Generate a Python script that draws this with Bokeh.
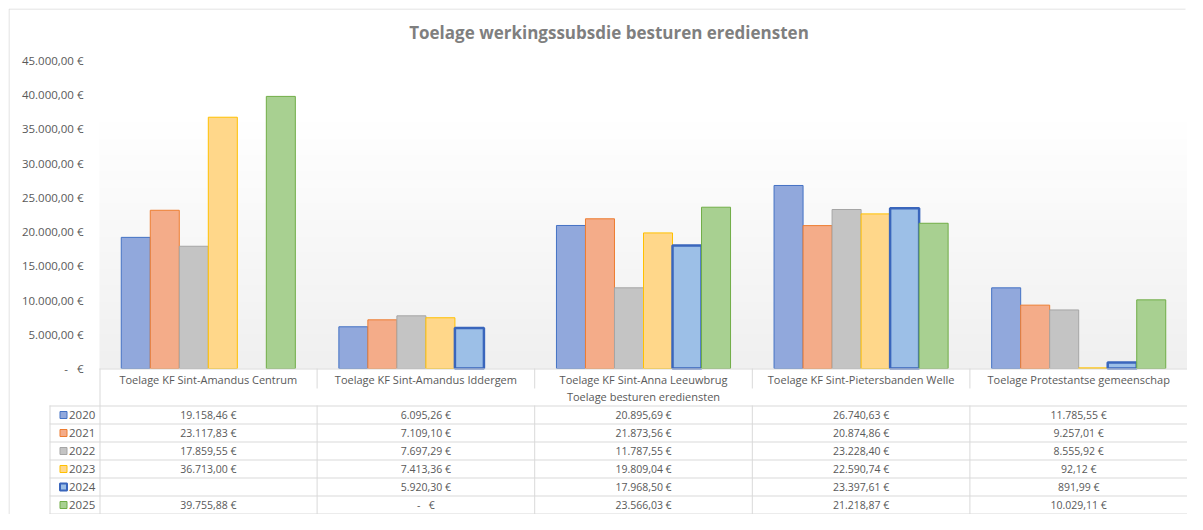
from bokeh.plotting import figure
from bokeh.models import Range1d, FixedTicker, ColumnDataSource
from bokeh.embed import file_html
from bokeh.resources import INLINE
from bokeh.core.properties import value
import numpy as np

# ---------------- data ----------------
TITLE = "Toelage werkingssubsdie besturen erediensten"
X_TITLE = "Toelage besturen erediensten"
CATEGORIES = [
    "Toelage KF Sint-Amandus Centrum",
    "Toelage KF Sint-Amandus Iddergem",
    "Toelage KF Sint-Anna Leeuwbrug",
    "Toelage KF Sint-Pietersbanden Welle",
    "Toelage Protestantse gemeenschap",
]
YEARS = ["2020", "2021", "2022", "2023", "2024", "2025"]
V2020 = [19158.46, 6095.26, 20895.69, 26740.63, 11785.55]
V2021 = [23117.83, 7109.10, 21873.56, 20874.86, 9257.01]
V2022 = [17859.55, 7697.29, 11787.55, 23228.40, 8555.92]
V2023 = [36713.00, 7413.36, 19809.04, 22590.74, 92.12]
V2024 = [None, 5920.30, 17968.50, 23397.61, 891.99]
V2025 = [39755.88, 0.0, 23566.03, 21218.87, 10029.11]
SERIES = [V2020, V2021, V2022, V2023, V2024, V2025]
Y_TICKS = [0, 5000, 10000, 15000, 20000, 25000, 30000, 35000, 40000, 45000]
Y_TICK_LABELS = ["-   €", "5.000,00 €", "10.000,00 €", "15.000,00 €", "20.000,00 €",
                 "25.000,00 €", "30.000,00 €", "35.000,00 €", "40.000,00 €", "45.000,00 €"]

# ---------------- style / layout ----------------
FILL_COLORS = ["#91A8DC", "#F4AC89", "#C4C4C4", "#FFD78A", "#9CBFE7", "#A8D091"]
LINE_COLORS = ["#4472C4", "#ED7D31", "#A5A5A5", "#FFC000", "#3A66BC", "#70AD47"]
LINE_WIDTHS = [1, 1, 1, 1, 2.5, 1]
KEY_WIDTHS = [1, 1, 1, 1, 2, 1]
FONT = "Open Sans"
TXT = "#595959"
GRID = "#D9D9D9"
NBSP = "\u00a0"

W, H = 1187, 514
LEFT, TOP = 8, 8                 # frame offsets inside the canvas
ORIGIN = 1                       # canvas origin in picture pixels
FRAME_L, FRAME_T = ORIGIN + LEFT, ORIGIN + TOP
FRAME_R, FRAME_B = ORIGIN + W, ORIGIN + H
CAT0_X = 100                     # picture x of the first category edge
NC, NB = len(CATEGORIES), len(YEARS)
CAT_PX = (FRAME_R - CAT0_X) / NC
AXIS_Y, TOP_TICK_Y = 369, 61     # picture y of value 0 and of the top tick
U = Y_TICKS[-1] / (AXIS_Y - TOP_TICK_Y)
GAP = 1.5
BAR_W = 1.0 / (NB + GAP)
HEAD = 37                        # header band under the axis
ROW0_Y = AXIS_Y + HEAD           # first table row line
ROW = (FRAME_B - 1 - ROW0_Y) / NB


def X(px):
    return (px - CAT0_X) / CAT_PX


def Y(py):
    return (AXIS_Y - py) * U


def fmt(v):
    if v is None:
        return ""
    if v == 0:
        return "-" + NBSP * 3 + "€"
    s = f"{v:,.2f}".replace(",", "X").replace(".", ",").replace("X", ".")
    return s + " €"


p = figure(width=W, height=H, x_range=Range1d(X(FRAME_L), X(FRAME_R)),
           y_range=Range1d(Y(FRAME_B), Y(FRAME_T)),
           x_axis_location=None, toolbar_location=None, output_backend="svg",
           min_border_left=LEFT, min_border_right=0, min_border_bottom=0,
           min_border_top=TOP, outline_line_color=None)
p.grid.visible = False

# plot-area gradient background (white top -> light grey bottom)
n = 200
t = np.linspace(0, 1, n)
g = (240 + 15 * np.clip(t / 0.8, 0, 1)).astype(np.uint32)
img = np.empty((n, 1), dtype=np.uint32)
img[:, 0] = (255 << 24) | (g << 16) | (g << 8) | g
p.image_rgba(image=[img], x=0, y=0, dw=NC, dh=Y_TICKS[-1])

for si, vals in enumerate(SERIES):
    xs = [ci + 0.5 + (si - (NB - 1) / 2) * BAR_W for ci in range(NC)]
    tops = [np.nan if not v else v for v in vals]   # blank / zero: no bar drawn
    src = ColumnDataSource(dict(x=xs, top=tops))
    p.vbar(x="x", top="top", bottom=0, width=BAR_W, source=src,
           fill_color=FILL_COLORS[si], line_color=LINE_COLORS[si],
           line_width=LINE_WIDTHS[si])

# value axis: labels pulled in front of the frame edge
ax = p.yaxis[0]
ax.ticker = FixedTicker(ticks=Y_TICKS)
ax.major_label_overrides = {t_: l.replace("   ", NBSP * 3) for t_, l in zip(Y_TICKS, Y_TICK_LABELS)}
ax.axis_line_color = None
ax.major_tick_line_color = None
ax.minor_tick_line_color = None
ax.major_tick_out = 0
ax.major_tick_in = 0
ax.major_label_standoff = -(84 - FRAME_L)
ax.major_label_text_font = FONT
ax.major_label_text_font_size = "11.5px"
ax.major_label_text_color = TXT

# title
p.text(x=[X(609.5)], y=[Y(33)], text=[TITLE], text_align="center",
       text_baseline="middle", text_font=value(FONT), text_font_size="17px",
       text_font_style="bold", text_color="#7F7F7F")

# chart outline (left and top edges, open polyline)
p.line(x=[X(FRAME_L + 0.5), X(FRAME_L + 0.5), X(FRAME_R - 2)],
       y=[Y(FRAME_B), Y(FRAME_T + 0.5), Y(FRAME_T + 0.5)], line_color=GRID)

# ---------------- data table (below the axis) ----------------
p.segment(x0=[0], x1=[NC], y0=[Y(AXIS_Y + 0.5)], y1=[Y(AXIS_Y + 0.5)], line_color=GRID)
p.segment(x0=list(range(1, NC)), x1=list(range(1, NC)), y0=[Y(AXIS_Y)] * (NC - 1),
          y1=[Y(AXIS_Y + 20)] * (NC - 1), line_color=GRID)
p.segment(x0=[X(CAT0_X + 0.5)], x1=[X(CAT0_X + 0.5)], y0=[Y(AXIS_Y)], y1=[Y(FRAME_B)],
          line_color=GRID)
vx = [X(50.5)] + list(range(1, NC))
p.segment(x0=vx, x1=vx, y0=[Y(ROW0_Y)] * len(vx), y1=[Y(FRAME_B)] * len(vx),
          line_color=GRID)
hy = [Y(ROW0_Y + ROW * i + 0.5) for i in range(NB + 1)]
p.segment(x0=[X(50)] * len(hy), x1=[NC] * len(hy), y0=hy, y1=hy, line_color=GRID)

p.text(x=[i + 0.5 for i in range(NC)], y=[Y(AXIS_Y + 11)] * NC, text=CATEGORIES,
       text_align="center", text_baseline="middle", text_font=value(FONT),
       text_font_size="11px", text_color=TXT)
p.text(x=[NC / 2], y=[Y(AXIS_Y + 27.5)], text=[X_TITLE], text_align="center",
       text_baseline="middle", text_font=value(FONT), text_font_size="11px",
       text_color=TXT)

row_y = [Y(ROW0_Y + ROW * r + ROW / 2 + 0.5) for r in range(NB)]
p.rect(x=[X(64)] * NB, y=row_y, width=7, height=7, width_units="screen",
       height_units="screen", fill_color=FILL_COLORS, line_color=LINE_COLORS,
       line_width=KEY_WIDTHS)
p.text(x=[X(69.5)] * NB, y=row_y, text=YEARS, text_align="left",
       text_baseline="middle", text_font=value(FONT), text_font_size="11.5px",
       text_color=TXT)

tx, ty, tt = [], [], []
for r, vals in enumerate(SERIES):
    for ci, v in enumerate(vals):
        tx.append(ci + 0.5)
        ty.append(row_y[r])
        tt.append(fmt(v))
p.text(x=tx, y=ty, text=tt, text_align="center", text_baseline="middle",
       text_font=value(FONT), text_font_size="10.5px", text_color=TXT)

open("out.html", "w").write(file_html(p, INLINE))
